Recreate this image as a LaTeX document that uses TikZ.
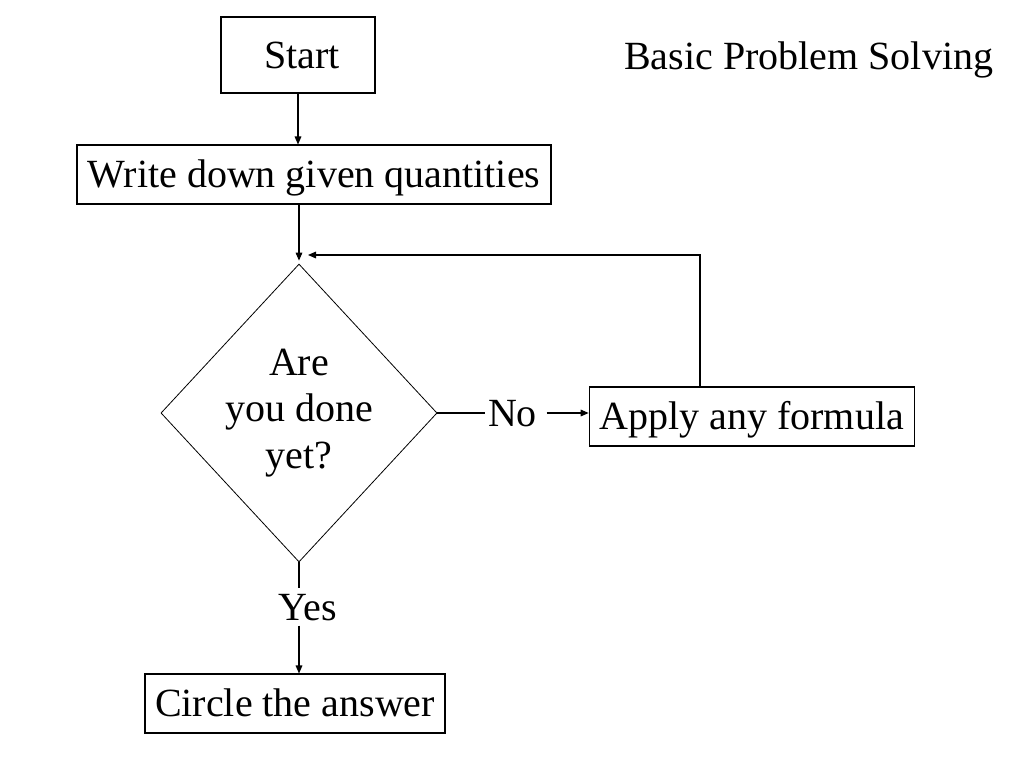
\documentclass[tikz,border=0pt]{standalone}
\usepackage{fontspec}
\setmainfont{Liberation Serif}
\usetikzlibrary{shapes.geometric,arrows.meta}
\begin{document}
\begin{tikzpicture}[x=0.75pt,y=-0.75pt,
  every node/.style={font=\fontsize{30pt}{35pt}\selectfont},
  box/.style={draw, line width=0.8pt, rectangle, inner sep=0pt, text height=20pt, text depth=0pt, minimum height=44.25pt},
  plain/.style={inner xsep=0pt, inner ysep=3.75pt, text height=20pt, text depth=0pt},
  decision/.style={draw, line width=0.6pt, diamond, inner sep=0pt, align=center, minimum width=205.5pt, minimum height=223.5pt},
  conn/.style={line width=0.8pt},
  arr/.style={conn, -{Triangle[length=6pt,width=5pt]}}
]
\useasboundingbox (0,0) rectangle (1024,768);
\node[box, minimum width=115.5pt, minimum height=57pt] (start) at (298,55) {\hspace*{6pt}Start};
\node[anchor=base west, inner sep=0pt] (title) at (624,69.3) {Basic Problem Solving};
\node[box, minimum width=355.5pt] (write) at (314,174.5) {Write down given quantities};
\node[decision] (dia) at (299,413) {Are\\you done\\yet?};
\node[box, minimum width=243.75pt] (apply) at (751.7,416.5) {Apply any formula};
\node[box, minimum width=225pt] (circ) at (295,703.5) {Circle the answer};
\node[plain] (no) at (512.5,413) {No};
\node[plain] (yes) at (308,607) {Yes};
\coordinate (fb) at (700,255);
\coordinate (fbend) at (308,255);

\draw[arr] (start.south) -- (start.south |- write.north);
\draw[arr, shorten >=2.25pt] (dia.north |- write.south) -- (dia.north);
\draw[arr] (fb |- apply.north) -- (fb) -- (fbend);
\draw[conn] (dia.east) -- ([xshift=-2pt]no.west);
\draw[arr] ([xshift=7pt]no.east) -- (apply.west |- no);
\draw[conn] (dia.south) -- (dia.south |- yes.north);
\draw[arr] (dia.south |- yes.south) -- (dia.south |- circ.north);
\end{tikzpicture}
\end{document}
